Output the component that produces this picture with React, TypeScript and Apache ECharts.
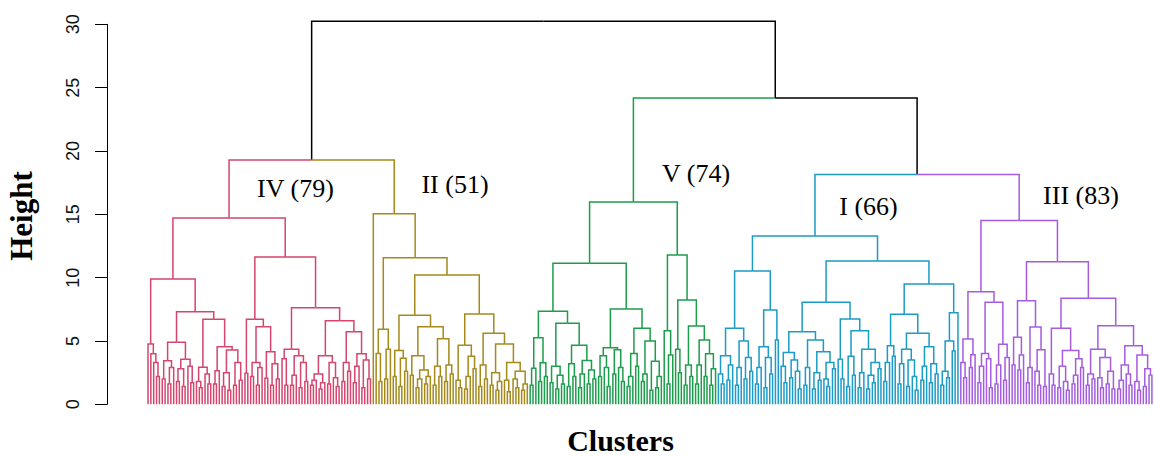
import React, { useEffect, useRef } from "react";
import * as echarts from "echarts";

// ---------- data ----------
const clusterNames = ["IV", "II", "V", "I", "III"];
const clusterLabels = ["IV (79)", "II (51)", "V (74)", "I (66)", "III (83)"];
const clusterColors = ["#D4466E", "#A4891B", "#1C9D4B", "#1B9BC5", "#A55CDD"];
const linkColor = "#000000";
const yTicks = [0, 5, 10, 15, 20, 25, 30];

// Cluster IV  (leaf = x, merge = (left,right)height)
const IV_A1 = "(x,(x,(x,(x,x)2.2)3.3)4.0)4.76";
const IV_A2a = "(((x,x)2.0,((x,x)1.6,x)2.9)3.44,(((x,x)1.8,(x,x)1.4)2.8,(x,(x,x)1.7)3.0)3.55)4.89";
const IV_A2b = "(((x,(x,x)1.3)1.8,(x,(x,x)1.6)2.4)2.92,(((x,x)1.6,x)2.65,(((x,x)1.4,(x,x)1.1)2.5,((x,x)1.5,(x,x)1.9)3.3)4.29)4.55)6.71";
const IV_B1 = "((x,x)2.45,(((x,x)2.2,((x,x)1.5,x)2.9)3.3,((x,x)2.05,((x,x)1.5,(x,x)2.0)3.2)4.15)6.13)6.71";
const IV_B2a = "((x,(x,x)1.5)3.6,(((x,x)1.5,x)2.3,((x,x)1.3,(x,x)1.8)3.3)3.84)4.34";
const IV_B2b = "(((((x,x)1.5,x)1.9,((x,x)1.2,x)1.7)2.4,((x,x)1.6,(x,(x,x)1.4)2.1)3.3)3.84,(((x,x)1.8,(x,x)2.6)3.3,(((x,x)1.7,x)3.0,((x,x)1.3,(x,x)2.0)3.5)4.0)5.73)6.6";
const treeIV = `((${IV_A1},(${IV_A2a},${IV_A2b})7.31)9.89,(${IV_B1},(${IV_B2a},${IV_B2b})7.63)11.63)14.71`;

// Cluster II
const II_a = "((x,(x,x)1.8)4.02,((x,x)2.0,x)4.34)5.92";
const II_b = "((x,x)2.2,((x,x)1.4,(x,x)2.6)3.63)4.24";
const II_c = "((x,x)2.3,(((x,x)1.3,x)2.0,((x,x)1.6,x)2.2)2.7)3.84";
const II_d = "(((x,x)1.5,(x,x)2.2)3.0,((x,x)1.8,(x,x)2.4)3.1)5.18";
const II_e = "((x,(x,x)1.3)1.9,(((x,x)1.2,x)2.2,(x,x)2.8)3.8)4.66";
const II_f = "(((x,x)1.4,(x,x)2.0)3.1,(((x,x)1.5,((x,x)1.1,x)1.8)2.5,((x,(x,x)1.0)1.9,((x,(x,x)1.3)2.0,((x,x)1.1,x)1.6)2.6)3.3)4.76)5.6";
const treeII = `(x,(${II_a},((${II_b},(${II_c},${II_d})6.13)7.03,(${II_e},${II_f})7.13)10.2)11.57)15.05`;

// Cluster V
const V_a = "(((x,x)1.5,x)2.84,((x,x)1.8,(x,x)2.2)3.28)5.26";
const V_b = "(((x,x)1.7,((x,x)1.2,(x,x)1.6)2.3)3.0,(((x,x)1.4,(x,x)2.2)3.2,(((x,x)1.3,x)2.4,((x,x)1.6,(x,x)2.0)2.7)3.45)4.66)6.39";
const V_c = "(((x,x)2.2,(x,(x,x)1.4)2.9)3.84,((x,x)2.4,(x,(x,x)1.8)2.9)4.3)4.47";
const V_d = "((((x,x)1.4,x)2.2,(x,x)3.0)4.02,(((x,x)1.8,x)2.4,((x,x)1.1,((x,x)1.3,x)2.2)3.4)5.0)6.0";
const V_e = "(x,((x,x)1.6,x)3.9)5.81";
const V_f = "((x,(x,x)2.5)4.34,(((x,x)1.5,(x,x)2.2)3.1,(((x,x)1.6,x)3.1,((x,x)2.2,((x,x)1.5,x)2.8)4.0)5.08)6.18)8.23";
const treeV = `(((${V_a},${V_b})7.34,(${V_c},${V_d})7.52)11.13,(${V_e},${V_f})11.79)15.97`;

// Cluster I
const I_a = "(((x,(x,x)1.6)2.4,((x,x)1.9,x)3.1)3.84,(((x,x)1.5,x)2.9,((x,x)2.0,(x,x)2.6)3.7)5.0)6.0";
const I_b = "((((x,x)1.6,x)2.9,((x,x)1.3,(x,x)2.4)3.7)4.55,(x,x)5.08)7.44";
const I_c = "(((x,(x,x)1.7)3.0,((x,x)2.1,(x,(x,x)1.2)2.6)3.5)4.08,(((x,x)1.5,x)2.9,(((x,x)1.2,(x,x)1.9)2.5,((x,(x,x)1.4)2.0,(x,x)2.8)3.3)4.15)5.08)5.73";
const I_d = "((x,(x,x)2.0)3.55,(((x,x)1.4,(x,x)2.3)3.8,(((x,x)1.3,x)2.5,(((x,x)1.2,(x,x)1.7)2.3,(x,x)2.8)3.3)4.34)5.81)6.73";
const I_e = "((((x,x)1.8,x)3.3,(x,x)3.8)4.63,((((x,x)1.6,x)3.2,((x,x)1.4,(x,(x,x)1.1)2.2)3.5)4.34,(((x,x)1.9,x)3.0,((x,x)1.7,(x,x)2.4)3.2)4.55)5.6)7.1";
const I_f = "((((x,x)1.5,(x,x)2.1)2.6,(x,x)4.2)5.0,x)7.23";
const treeI = `((${I_a},${I_b})10.52,((${I_c},${I_d})8.05,(${I_e},${I_f})9.5)11.31)13.29`;

// Cluster III
const III_a = "((x,(x,x)2.1)3.3,((x,x)2.9,x)3.92)5.16";
const III_b = "((((x,x)1.7,x)3.0,(x,(x,x)1.3)3.6)4.02,(((x,x)1.6,x)3.1,((x,x)1.9,x)3.7)4.74)8.05";
const III_c = "(((x,x)3.1,((x,x)2.7,x)3.89)5.29,(((x,x)1.7,x)2.9,((x,(x,x)1.5)2.6,(x,x)1.4)4.3)6.1)8.18";
const III_d = "((x,(x,x)1.5)2.4,(((x,x)1.3,(x,(x,x)1.1)1.8)3.0,(((x,x)1.6,x)2.3,(x,x)2.9)3.6)4.24)6.0";
const III_e = "((((x,x)1.5,(x,x)2.0)2.4,((x,(x,x)1.3)2.1,((x,x)1.6,(x,x)1.2)2.6)3.7)4.34,((((x,x)1.2,x)1.9,(x,(x,x)1.5)2.4)3.1,((x,(x,x)1.1)1.8,((x,x)1.4,(x,x)2.3)2.8)3.9)4.63)6.21";
const treeIII = `((${III_a},${III_b})8.89,(${III_c},(${III_d},${III_e})8.37)11.26)14.52`;

const clusterTrees = [treeIV, treeII, treeV, treeI, treeIII];
// merges above the clusters (#k = cluster k in clusterNames order)
const topTree = "((#0,#1)19.29,(#2,(#3,#4)18.15)24.18)30.25";

// ---------- layout constants ----------
const W = 1154;
const H = 456;
const labelPos: [number, number][] = [
  [295.5, 188],
  [455, 184.5],
  [696, 173],
  [868.5, 206],
  [1081, 195.5],
];

type Node = { h: number; kids: Node[]; c: number; x?: number };

function parseTree(src: string, refs: Node[], cluster: number): Node {
  let i = 0;
  const readNum = () => {
    const m = /^[0-9.]+/.exec(src.slice(i));
    const t = m ? m[0] : "0";
    i += t.length;
    return parseFloat(t);
  };
  const node = (): Node => {
    const ch = src[i];
    if (ch === "(") {
      i++;
      const a = node();
      i++; // ,
      const b = node();
      i++; // )
      return { h: readNum(), kids: [a, b], c: cluster };
    }
    if (ch === "#") {
      i++;
      return refs[readNum()];
    }
    i++;
    return { h: 0, kids: [], c: cluster };
  };
  return node();
}

function buildEdges() {
  const roots = clusterTrees.map((t, k) => parseTree(t, [], k));
  const root = parseTree(topTree, roots, clusterNames.length);
  let leaf = 0;
  const place = (n: Node) => {
    if (!n.kids.length) {
      n.x = leaf++;
      return;
    }
    n.kids.forEach(place);
    n.x = ((n.kids[0].x as number) + (n.kids[1].x as number)) / 2;
  };
  place(root);
  const edges: number[][] = [];
  const collect = (n: Node) => {
    for (const k of n.kids) {
      edges.push([k.x as number, k.h, n.x as number, n.h, k.c]);
      collect(k);
    }
  };
  collect(root);
  return { edges, leafCount: leaf };
}

export default function App() {
  const ref = useRef<HTMLDivElement>(null);
  useEffect(() => {
    if (!ref.current) return;
    const chart = echarts.init(ref.current, undefined, { renderer: "svg" });
    const { edges, leafCount } = buildEdges();
    const palette = [...clusterColors, linkColor];
    const spacing = 2.852;
    const gridLeft = 107;
    const firstLeafPx = 148;
    const gridRight = 2;
    const xMin = -(firstLeafPx - gridLeft) / spacing;
    const xMax = (W - gridRight - firstLeafPx) / spacing;

    const graphics: any[] = clusterLabels.map((t, k) => ({
      type: "text",
      x: labelPos[k][0],
      y: labelPos[k][1],
      silent: true,
      style: {
        text: t,
        fontFamily: "Liberation Serif",
        fontSize: 26,
        fill: "#000",
        align: "center",
        verticalAlign: "middle",
      },
    }));
    graphics.push({
      type: "text",
      x: 620.5,
      y: 440.5,
      silent: true,
      style: {
        text: "Clusters",
        fontFamily: "Liberation Serif",
        fontWeight: "bold",
        fontSize: 30,
        lineHeight: 24,
        fill: "#000",
        align: "center",
        verticalAlign: "middle",
      },
    });
    graphics.push({
      type: "text",
      x: 21,
      y: 216,
      rotation: Math.PI / 2,
      silent: true,
      style: {
        text: "Height",
        fontFamily: "Liberation Serif",
        fontWeight: "bold",
        fontSize: 31,
        fill: "#000",
        align: "center",
        verticalAlign: "middle",
      },
    });

    chart.setOption({
      animation: false,
      backgroundColor: "#ffffff",
      grid: { left: gridLeft, right: gridRight, top: 24.3, bottom: 51.7 },
      xAxis: {
        type: "value",
        min: xMin,
        max: Math.max(xMax, leafCount - 1),
        show: false,
      },
      yAxis: {
        type: "value",
        min: yTicks[0],
        max: yTicks[yTicks.length - 1],
        interval: yTicks[1] - yTicks[0],
        splitLine: { show: false },
        axisLine: { show: true, onZero: false, lineStyle: { color: "#000", width: 1 } },
        axisTick: { show: true, length: 12, lineStyle: { color: "#000", width: 1 } },
        axisLabel: {
          rotate: 90,
          margin: 25,
          fontSize: 18,
          fontFamily: "Liberation Sans",
          color: "#111",
        },
      },
      graphic: graphics,
      series: [
        {
          type: "custom",
          coordinateSystem: "cartesian2d",
          clip: false,
          silent: true,
          encode: { x: [0, 2], y: [1, 3] },
          data: edges,
          renderItem: (_p: any, api: any) => {
            const a = api.coord([api.value(0), api.value(1)]);
            const b = api.coord([api.value(0), api.value(3)]);
            const c = api.coord([api.value(2), api.value(3)]);
            return {
              type: "polyline",
              shape: { points: [a, b, c] },
              style: { stroke: palette[api.value(4)], fill: "none", lineWidth: 1.5 },
            };
          },
        },
      ],
    });
    return () => chart.dispose();
  }, []);
  return (
    <div
      ref={ref}
      style={{ position: "absolute", left: 0, top: 0, width: W, height: H, background: "#fff" }}
    />
  );
}
